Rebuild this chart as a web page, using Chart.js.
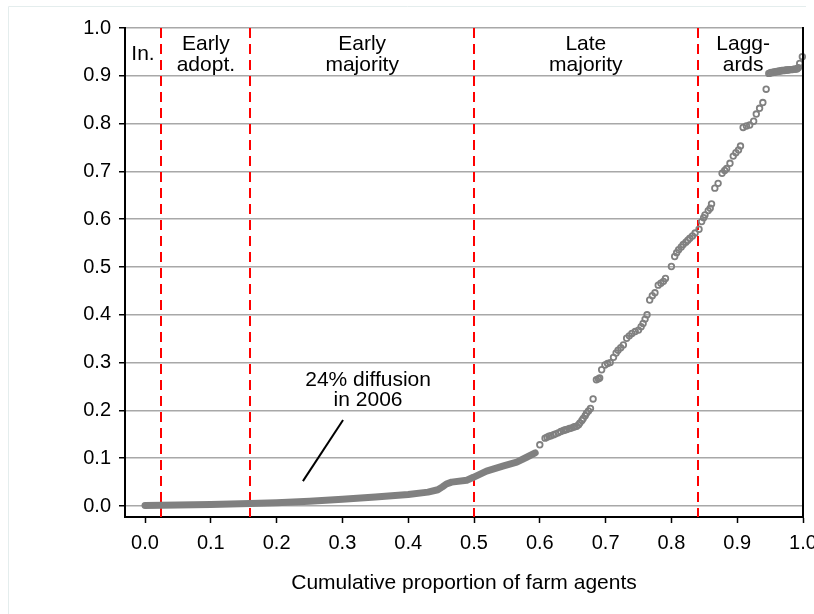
<!DOCTYPE html>
<html><head><meta charset="utf-8">
<script src="https://cdn.jsdelivr.net/npm/chart.js@4/dist/chart.umd.min.js"></script>
<style>html,body{margin:0;padding:0;background:#fff;}#wrap{width:814px;height:614px;}</style>
</head><body><div id="wrap"><canvas id="c" width="814" height="614"></canvas></div>
<script>
// Dense lower part of the curve (overlapping markers form a continuous band)
const denseX = [0.000, 0.050, 0.100, 0.160, 0.200, 0.250, 0.300, 0.350, 0.400, 0.430, 0.445, 0.452, 0.458, 0.466, 0.489, 0.499, 0.519, 0.545, 0.565, 0.580, 0.593];
const denseY = [0.001, 0.002, 0.003, 0.005, 0.007, 0.010, 0.014, 0.019, 0.024, 0.029, 0.034, 0.040, 0.046, 0.050, 0.054, 0.060, 0.073, 0.084, 0.092, 0.102, 0.111];
// Sparse upper part of the curve (individual hollow markers)
const sparseX = [0.600,0.608,0.611,0.614,0.617,0.621,0.624,0.628,0.632,0.636,0.638,0.641,0.645,0.648,0.651,0.653,0.656,0.659,0.661,0.664,0.666,0.669,0.671,0.674,0.677,0.681,0.686,0.689,0.691,0.694,0.699,0.703,0.707,0.712,0.716,0.719,0.723,0.727,0.732,0.736,0.740,0.745,0.750,0.754,0.757,0.760,0.763,0.767,0.771,0.775,0.780,0.784,0.788,0.791,0.800,0.805,0.808,0.811,0.815,0.818,0.822,0.825,0.828,0.832,0.836,0.842,0.846,0.849,0.851,0.856,0.859,0.861,0.866,0.871,0.877,0.881,0.884,0.889,0.894,0.898,0.902,0.905,0.909,0.914,0.919,0.925,0.929,0.934,0.939,0.944,0.948,0.950,0.952,0.954,0.956,0.958,0.960,0.962,0.964,0.966,0.968,0.970,0.972,0.974,0.976,0.978,0.980,0.982,0.984,0.986,0.988,0.990,0.991,0.993,0.995,0.999];
const sparseY = [0.128,0.142,0.144,0.146,0.147,0.149,0.151,0.153,0.156,0.158,0.159,0.160,0.162,0.163,0.165,0.166,0.167,0.170,0.174,0.179,0.183,0.189,0.194,0.199,0.204,0.224,0.264,0.266,0.268,0.285,0.295,0.298,0.300,0.311,0.320,0.326,0.331,0.337,0.351,0.356,0.361,0.365,0.368,0.375,0.382,0.391,0.400,0.431,0.440,0.446,0.462,0.466,0.470,0.476,0.501,0.522,0.530,0.536,0.542,0.547,0.552,0.556,0.560,0.565,0.571,0.579,0.595,0.603,0.609,0.618,0.623,0.632,0.665,0.675,0.696,0.702,0.706,0.717,0.732,0.739,0.745,0.753,0.792,0.795,0.797,0.805,0.820,0.832,0.844,0.872,0.905,0.906,0.907,0.907,0.908,0.908,0.909,0.909,0.910,0.910,0.911,0.911,0.911,0.912,0.912,0.912,0.913,0.913,0.913,0.914,0.914,0.914,0.915,0.917,0.926,0.940];
// Adopter-category boundaries and names
const thresholds = [0.025, 0.16, 0.5, 0.84];
const categoryNames = [["In."], ["Early", "adopt."], ["Early", "majority"], ["Late", "majority"], ["Lagg-", "ards"]];
// Axis ticks
const xTickValues = [0.0, 0.1, 0.2, 0.3, 0.4, 0.5, 0.6, 0.7, 0.8, 0.9, 1.0];
const xTickLabels = ["0.0", "0.1", "0.2", "0.3", "0.4", "0.5", "0.6", "0.7", "0.8", "0.9", "1.0"];
const yTickValues = [0.0, 0.1, 0.2, 0.3, 0.4, 0.5, 0.6, 0.7, 0.8, 0.9, 1.0];
const yTickLabels = ["0.0", "0.1", "0.2", "0.3", "0.4", "0.5", "0.6", "0.7", "0.8", "0.9", "1.0"];
const xTitle = "Cumulative proportion of farm agents";
const noteLines = ["24% diffusion", "in 2006"];

// ---- layout / annotation placement (in data units) ----
const FONT = '"Liberation Sans", Arial, Helvetica, sans-serif';
const catPlacement = [
  {x: -0.003, ys: [0.933]},
  {x: 0.0925, ys: [0.954, 0.911]},
  {x: 0.33, ys: [0.954, 0.911]},
  {x: 0.67, ys: [0.954, 0.911]},
  {x: 0.909, ys: [0.954, 0.911]}
];
const notePlacement = {x: 0.339, ys: [0.251, 0.209], from: {x: 0.301, y: 0.180}, to: {x: 0.240, y: 0.052}};

const overlay = {
  id: 'overlay',
  beforeDraw(chart) {
    const ctx = chart.ctx;
    ctx.save();
    ctx.strokeStyle = '#e4eded';
    ctx.lineWidth = 1;
    ctx.beginPath();
    ctx.moveTo(8.5, 614); ctx.lineTo(8.5, 6.5); ctx.lineTo(806, 6.5);
    ctx.stroke();
    ctx.restore();
  },
  beforeDatasetsDraw(chart) {
    const {ctx, chartArea: a, scales: {x}} = chart;
    ctx.save();
    ctx.strokeStyle = '#ff0000';
    ctx.lineWidth = 2;
    ctx.setLineDash([10, 6]);
    thresholds.forEach(t => {
      const px = Math.round(x.getPixelForValue(t));
      ctx.beginPath(); ctx.moveTo(px, a.top); ctx.lineTo(px, a.bottom); ctx.stroke();
    });
    ctx.restore();
  },
  afterDatasetsDraw(chart) {
    const {ctx, chartArea: a, scales: {x, y}} = chart;
    ctx.save();
    // right frame
    ctx.strokeStyle = '#000'; ctx.lineWidth = 2;
    ctx.beginPath(); ctx.moveTo(a.right, a.top - 1); ctx.lineTo(a.right, a.bottom + 1); ctx.stroke();
    // category labels
    ctx.fillStyle = '#000';
    ctx.font = '21px ' + FONT;
    ctx.textAlign = 'center';
    ctx.textBaseline = 'alphabetic';
    categoryNames.forEach((lines, i) => {
      const p = catPlacement[i];
      lines.forEach((s, j) => ctx.fillText(s, x.getPixelForValue(p.x), y.getPixelForValue(p.ys[j])));
    });
    // note
    noteLines.forEach((s, j) => ctx.fillText(s, x.getPixelForValue(notePlacement.x), y.getPixelForValue(notePlacement.ys[j])));
    ctx.strokeStyle = '#000'; ctx.lineWidth = 2;
    ctx.beginPath();
    ctx.moveTo(x.getPixelForValue(notePlacement.from.x), y.getPixelForValue(notePlacement.from.y));
    ctx.lineTo(x.getPixelForValue(notePlacement.to.x), y.getPixelForValue(notePlacement.to.y));
    ctx.stroke();
    // x title
    ctx.fillText(xTitle, (a.left + a.right) / 2, 589);
    ctx.restore();
  }
};

new Chart(document.getElementById('c'), {
  type: 'scatter',
  data: {
    datasets: [
      {
        data: denseX.map((v, i) => ({x: v, y: denseY[i]})),
        showLine: true,
        borderColor: '#808080',
        backgroundColor: '#808080',
        borderWidth: 7,
        borderCapStyle: 'round',
        borderJoinStyle: 'round',
        pointRadius: 0,
        tension: 0,
        clip: false
      },
      {
        data: sparseX.map((v, i) => ({x: v, y: sparseY[i]})),
        pointStyle: 'circle',
        pointRadius: 2.8,
        pointBorderWidth: 1.8,
        borderColor: '#808080',
        backgroundColor: 'rgba(0,0,0,0)',
        clip: false
      }
    ]
  },
  options: {
    responsive: false,
    devicePixelRatio: 1,
    animation: false,
    events: [],
    layout: {padding: {left: 0, top: 28, right: 11, bottom: 0}},
    plugins: {legend: {display: false}, tooltip: {enabled: false}, title: {display: false}},
    scales: {
      x: {
        type: 'linear', min: -0.0304, max: 1.0,
        afterBuildTicks: s => { s.ticks = xTickValues.map(v => ({value: v})); },
        afterFit: s => { s.height = 97; s.paddingLeft = 0; s.paddingRight = 0; },
        ticks: {callback: (v, i) => xTickLabels[i], font: {family: FONT, size: 20}, color: '#000', padding: 8, maxRotation: 0, autoSkip: false},
        grid: {drawOnChartArea: false, tickLength: 6, tickColor: '#000', tickWidth: 1.5},
        border: {color: '#000', width: 2}
      },
      y: {
        type: 'linear', min: -0.023, max: 1.0,
        afterBuildTicks: s => { s.ticks = yTickValues.map(v => ({value: v})); },
        afterFit: s => { s.width = 125; s.paddingTop = 0; s.paddingBottom = 0; },
        ticks: {callback: (v, i) => yTickLabels[i], font: {family: FONT, size: 20}, color: '#000', padding: 8, autoSkip: false},
        grid: {color: '#a8a8a8', lineWidth: 1.5, tickLength: 6, tickColor: '#000', tickWidth: 1.5},
        border: {color: '#000', width: 2}
      }
    }
  },
  plugins: [overlay]
});
</script>
</body></html>
